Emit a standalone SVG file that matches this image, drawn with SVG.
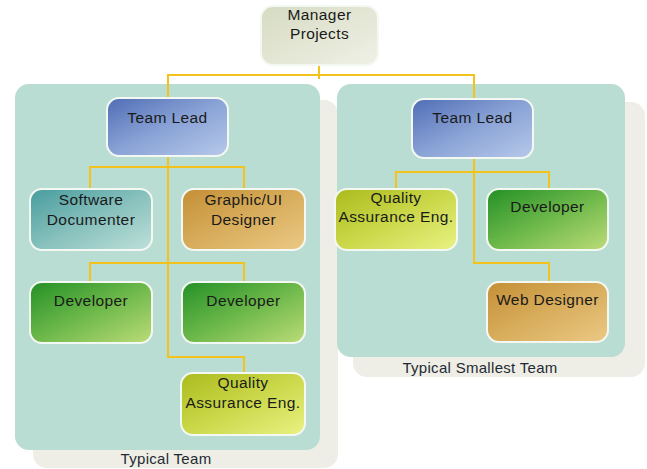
<svg xmlns="http://www.w3.org/2000/svg" width="647" height="469" viewBox="0 0 647 469">
<defs>
<linearGradient id="gMgr" x1="0" y1="0" x2="1" y2="1"><stop offset="0" stop-color="#d6dbc2"/><stop offset="1" stop-color="#eff1e6"/></linearGradient>
<linearGradient id="gLead" x1="0" y1="0" x2="1" y2="1"><stop offset="0" stop-color="#4f6db5"/><stop offset="0.5" stop-color="#8aa3d6"/><stop offset="1" stop-color="#b7c9ea"/></linearGradient>
<linearGradient id="gDoc" x1="0" y1="0" x2="1" y2="1"><stop offset="0" stop-color="#479c9e"/><stop offset="0.5" stop-color="#86c0bc"/><stop offset="1" stop-color="#bfe0da"/></linearGradient>
<linearGradient id="gOrg" x1="0" y1="0" x2="1" y2="1"><stop offset="0" stop-color="#c48f36"/><stop offset="0.5" stop-color="#d8ad5c"/><stop offset="1" stop-color="#ebc985"/></linearGradient>
<linearGradient id="gDev" x1="0" y1="0" x2="1" y2="1"><stop offset="0" stop-color="#239026"/><stop offset="0.5" stop-color="#6db84a"/><stop offset="1" stop-color="#bcdc78"/></linearGradient>
<linearGradient id="gQa" x1="0" y1="0" x2="1" y2="1"><stop offset="0" stop-color="#abbb1c"/><stop offset="0.5" stop-color="#cbd84a"/><stop offset="1" stop-color="#e9f283"/></linearGradient>
</defs>
<style>
.box{stroke:#f4f8f2;stroke-width:2}
.t{font-family:"Liberation Sans",Arial,sans-serif;font-size:15.5px;letter-spacing:0.4px;fill:#1a1a1a;text-anchor:middle}
.cap{font-family:"Liberation Sans",Arial,sans-serif;font-size:15px;letter-spacing:0.3px;fill:#1f2a33;text-anchor:middle}
.bg{fill:#b9ddd2}
.sh{fill:#eeeee6}
.con{fill:none;stroke:#f4c21c;stroke-width:2}
</style>
<rect width="647" height="469" fill="#ffffff"/>
<g id="team-typical">
<rect class="sh" x="33" y="100" width="305" height="368" rx="14"/>
<rect class="bg" x="15" y="84" width="305" height="366" rx="14"/>
<text class="cap" x="166" y="464">Typical Team</text>
</g>
<g id="team-smallest">
<rect class="sh" x="353" y="102" width="292" height="275" rx="14"/>
<rect class="bg" x="337" y="84" width="288" height="273" rx="14"/>
<text class="cap" x="480" y="373">Typical Smallest Team</text>
</g>
<g id="connectors">
<path class="con" d="M319,65 V79 M168,98 V75 H474 V99"/>
<path class="con" d="M168,155 V357 H244 V373"/>
<path class="con" d="M90,190 V167 H244 V189"/>
<path class="con" d="M90,282 V263 H244 V282"/>
<path class="con" d="M474,159 V263 H549 V282"/>
<path class="con" d="M396,189 V172 H549 V189"/>
</g>
<g id="manager">
<rect class="box" x="261" y="6" width="117" height="59" rx="12" fill="url(#gMgr)"/>
<text class="t" x="319.5" y="20">Manager</text>
<text class="t" x="319.5" y="39">Projects</text>
</g>
<g id="lead-left">
<rect class="box" x="107" y="98" width="121" height="58" rx="12" fill="url(#gLead)"/>
<text class="t" x="167.5" y="123">Team Lead</text>
</g>
<g id="lead-right">
<rect class="box" x="412" y="99" width="121" height="59" rx="12" fill="url(#gLead)"/>
<text class="t" x="472.5" y="123">Team Lead</text>
</g>
<g id="software-documenter">
<rect class="box" x="30" y="189" width="122" height="61" rx="12" fill="url(#gDoc)"/>
<text class="t" x="91" y="205">Software</text>
<text class="t" x="91" y="225">Documenter</text>
</g>
<g id="graphic-ui-designer">
<rect class="box" x="182" y="189" width="123" height="61" rx="12" fill="url(#gOrg)"/>
<text class="t" x="243.5" y="205">Graphic/UI</text>
<text class="t" x="243.5" y="225">Designer</text>
</g>
<g id="developer-left-1">
<rect class="box" x="30" y="282" width="122" height="61" rx="12" fill="url(#gDev)"/>
<text class="t" x="91" y="306">Developer</text>
</g>
<g id="developer-left-2">
<rect class="box" x="182" y="282" width="123" height="61" rx="12" fill="url(#gDev)"/>
<text class="t" x="243.5" y="306">Developer</text>
</g>
<g id="qa-left">
<rect class="box" x="181" y="373" width="124" height="62" rx="12" fill="url(#gQa)"/>
<text class="t" x="243" y="388">Quality</text>
<text class="t" x="243" y="408">Assurance Eng.</text>
</g>
<g id="qa-right">
<rect class="box" x="335" y="189" width="122" height="61" rx="12" fill="url(#gQa)"/>
<text class="t" x="396" y="203">Quality</text>
<text class="t" x="396" y="222">Assurance Eng.</text>
</g>
<g id="developer-right">
<rect class="box" x="487" y="189" width="121" height="61" rx="12" fill="url(#gDev)"/>
<text class="t" x="547.5" y="212">Developer</text>
</g>
<g id="web-designer">
<rect class="box" x="487" y="282" width="121" height="60" rx="12" fill="url(#gOrg)"/>
<text class="t" x="547.5" y="305">Web Designer</text>
</g>
</svg>
